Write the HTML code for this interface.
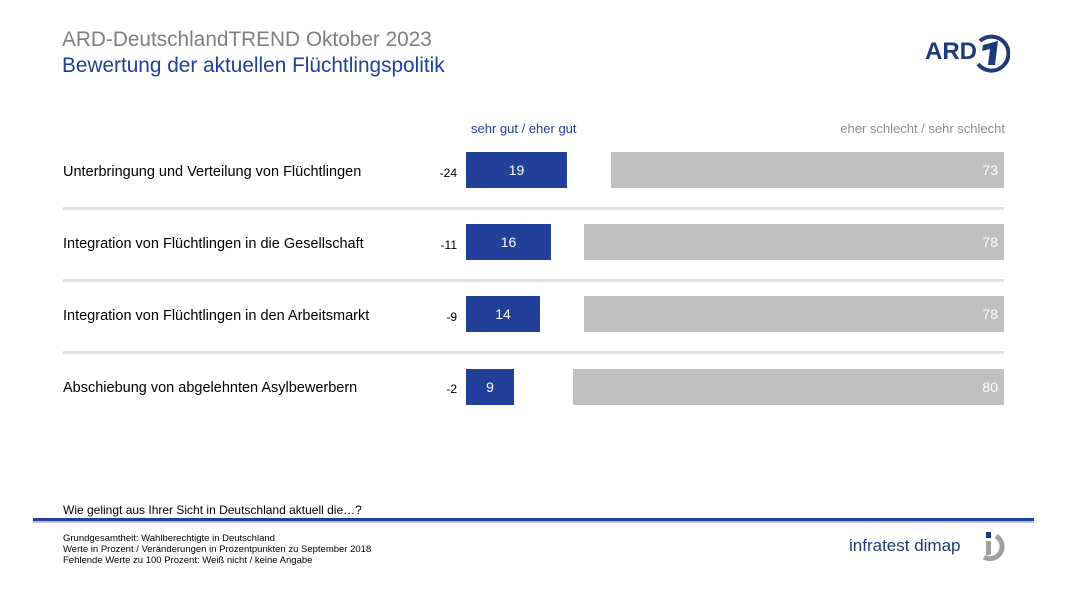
<!DOCTYPE html>
<html><head><meta charset="utf-8"><style>
body{margin:0;width:1071px;height:601px;background:#fff;position:relative;font-family:"Liberation Sans",sans-serif;overflow:hidden}
.a{position:absolute;white-space:nowrap}
.b{position:absolute;background:#21409a;color:#fff;font-size:14px;text-align:center;line-height:36px;height:36px}
.g{position:absolute;background:#bfbfbf;color:#fff;font-size:14px;text-align:right;line-height:36px;height:36px;padding-right:6px;box-sizing:border-box}
.l{position:absolute;font-size:14.5px;color:#000;left:63px}
.d{position:absolute;font-size:12px;color:#000;right:614px}
.s{position:absolute;left:63px;width:941px;height:3px;background:#e0e0e0}
</style></head><body>
<div class="a" style="left:62px;top:28px;font-size:20.8px;color:#7f7f7f">ARD-DeutschlandTREND Oktober 2023</div>
<div class="a" style="left:62px;top:54px;font-size:20.8px;color:#21409a">Bewertung der aktuellen Flüchtlingspolitik</div>
<div class="a" style="left:925px;top:38px;font-size:24px;font-weight:bold;color:#1e3a78">ARD</div>
<svg class="a" style="left:970px;top:33px" width="40" height="40" viewBox="0 0 40 40"><path d="M10 8 A17 17 0 1 1 8 31" fill="none" stroke="#1e3a78" stroke-width="4"/><path d="M13 12 L28 8 L25 32 L18 32 L20 16 L12 18Z" fill="#1e3a78"/></svg>
<div class="a" style="left:471px;top:121px;font-size:13px;color:#21409a">sehr gut / eher gut</div>
<div class="a" style="right:66px;top:121px;font-size:13px;color:#8c8c8c">eher schlecht / sehr schlecht</div>

<div class="l" style="top:164px">Unterbringung und Verteilung von Flüchtlingen</div>
<div class="d" style="top:166px">-24</div>
<div class="b" style="left:466px;top:152px;width:101px">19</div>
<div class="g" style="left:611px;top:152px;width:393px">73</div>
<div class="s" style="top:207px"></div>

<div class="l" style="top:236px">Integration von Flüchtlingen in die Gesellschaft</div>
<div class="d" style="top:238px">-11</div>
<div class="b" style="left:466px;top:224px;width:85px">16</div>
<div class="g" style="left:584px;top:224px;width:420px">78</div>
<div class="s" style="top:279px"></div>

<div class="l" style="top:308px">Integration von Flüchtlingen in den Arbeitsmarkt</div>
<div class="d" style="top:310px">-9</div>
<div class="b" style="left:466px;top:296px;width:74px">14</div>
<div class="g" style="left:584px;top:296px;width:420px">78</div>
<div class="s" style="top:351px"></div>

<div class="l" style="top:380px">Abschiebung von abgelehnten Asylbewerbern</div>
<div class="d" style="top:382px">-2</div>
<div class="b" style="left:466px;top:369px;width:48px">9</div>
<div class="g" style="left:573px;top:369px;width:431px">80</div>

<div class="a" style="left:63px;top:503px;font-size:12px">Wie gelingt aus Ihrer  Sicht in Deutschland  aktuell die…?</div>
<div class="a" style="left:33px;top:518px;width:1001px;height:3px;background:#21409a"></div>
<div class="a" style="left:33px;top:521px;width:1001px;height:2px;background:#bfbfbf"></div>
<div class="a" style="left:63px;top:533px;font-size:9.5px;line-height:11px">Grundgesamtheit:  Wahlberechtigte in Deutschland<br>Werte in Prozent / Veränderungen  in Prozentpunkten zu September 2018<br>Fehlende  Werte zu 100 Prozent: Weiß nicht / keine Angabe</div>
<div class="a" style="left:849px;top:536px;font-size:17px;color:#1e3a78">infratest dimap</div>
<svg class="a" style="left:979px;top:530px" width="30" height="34" viewBox="0 0 30 34"><rect x="7" y="2" width="5" height="6" fill="#1e3a78"/><path d="M17 6 A11 11 0 1 1 5 27" fill="none" stroke="#a0a0a0" stroke-width="5"/><rect x="7" y="11" width="5" height="14" fill="#a0a0a0"/></svg>
</body></html>
